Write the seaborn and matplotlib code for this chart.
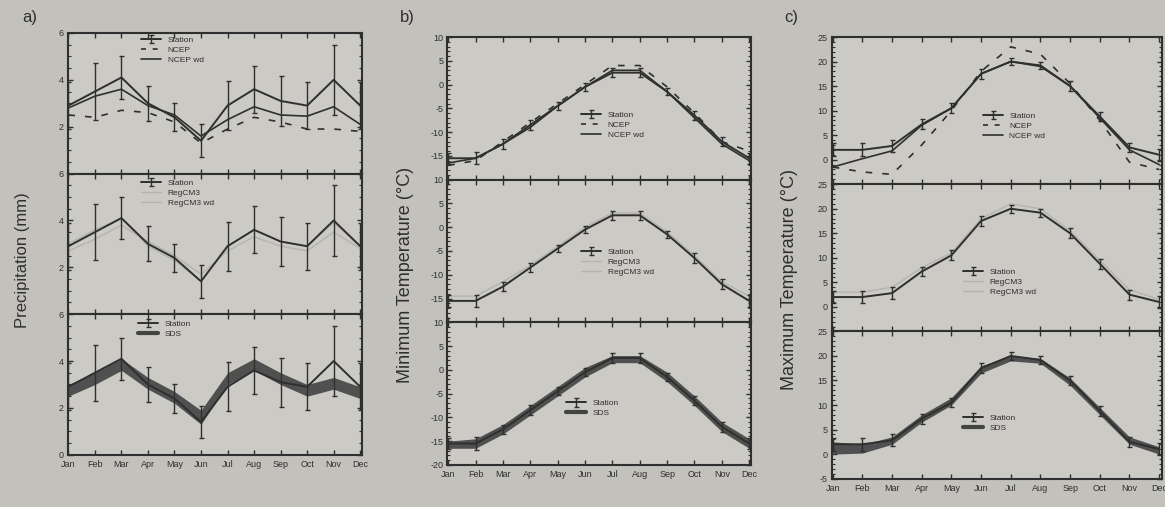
import matplotlib
matplotlib.use('Agg')
import matplotlib.pyplot as plt
from matplotlib.lines import Line2D
from matplotlib.ticker import MultipleLocator
import seaborn as sns
import numpy as np

months = ['Jan', 'Feb', 'Mar', 'Apr', 'May', 'Jun', 'Jul', 'Aug', 'Sep', 'Oct', 'Nov', 'Dec']

# precipitation (mm)
prec_station = [2.9, 3.5, 4.1, 3.0, 2.4, 1.4, 2.9, 3.6, 3.1, 2.9, 4.0, 2.9]
prec_station_sd = [1.0, 1.2, 0.9, 0.75, 0.6, 0.7, 1.05, 1.0, 1.05, 1.0, 1.5, 1.0]
prec_ncep = [2.5, 2.4, 2.7, 2.6, 2.2, 1.3, 1.9, 2.4, 2.2, 1.9, 1.9, 1.8]
prec_ncep_wd = [2.8, 3.3, 3.6, 2.9, 2.5, 1.6, 2.3, 2.85, 2.5, 2.45, 2.85, 2.1]
prec_regcm = [2.7, 3.2, 3.8, 3.1, 2.5, 1.7, 2.7, 3.3, 2.9, 2.7, 3.5, 2.8]
prec_regcm_wd = [3.0, 3.6, 4.1, 2.9, 2.3, 1.4, 2.9, 3.6, 3.1, 2.9, 3.9, 2.9]
prec_sds_lo = [2.5, 3.0, 3.6, 2.8, 2.2, 1.3, 3.0, 3.6, 3.0, 2.5, 2.8, 2.4]
prec_sds_hi = [3.0, 3.5, 4.1, 3.3, 2.7, 1.9, 3.5, 4.1, 3.5, 3.0, 3.3, 2.9]

# minimum temperature (C)
tmin_station = [-15.5, -15.5, -12.5, -8.5, -4.5, -0.5, 2.5, 2.5, -1.5, -6.5, -12.0, -15.5]
tmin_station_sd = [1.2, 1.3, 1.0, 1.0, 0.8, 0.8, 1.0, 1.0, 0.8, 1.0, 1.0, 1.2]
tmin_ncep = [-17.0, -16.0, -12.0, -8.0, -4.0, 0.0, 4.0, 4.0, -0.5, -6.0, -12.0, -14.0]
tmin_ncep_wd = [-16.5, -15.5, -12.5, -9.0, -4.5, -0.5, 3.0, 3.0, -1.5, -7.0, -12.5, -16.0]
tmin_regcm = [-14.5, -14.5, -11.5, -8.0, -4.0, 0.0, 3.0, 3.0, -1.0, -6.0, -11.5, -14.5]
tmin_regcm_wd = [-15.5, -15.5, -12.5, -8.5, -4.5, -0.5, 2.5, 2.5, -1.5, -6.5, -12.0, -15.5]
tmin_sds_lo = [-16.5, -16.5, -13.5, -9.5, -5.5, -1.5, 1.5, 1.5, -2.5, -7.5, -13.0, -16.5]
tmin_sds_hi = [-15.0, -14.5, -11.5, -7.5, -3.5, 0.5, 3.0, 3.0, -0.5, -5.5, -11.0, -14.5]

# maximum temperature (C)
tmax_station = [2.0, 2.0, 2.8, 7.2, 10.5, 17.5, 20.0, 19.2, 15.0, 8.8, 2.5, 1.0]
tmax_station_sd = [1.3, 1.3, 1.2, 1.0, 1.0, 1.0, 0.8, 0.8, 1.0, 1.0, 1.0, 1.2]
tmax_ncep = [-1.5, -2.5, -3.0, 3.0, 10.0, 18.0, 23.0, 21.5, 15.5, 8.0, -0.5, -2.0]
tmax_ncep_wd = [-1.5, 0.2, 1.8, 7.0, 10.5, 17.5, 20.0, 19.0, 15.0, 8.5, 2.0, -1.0]
tmax_regcm = [3.0, 3.0, 4.0, 8.0, 11.0, 18.0, 21.0, 20.0, 15.5, 9.5, 3.5, 1.5]
tmax_regcm_wd = [2.0, 2.0, 2.8, 7.2, 10.5, 17.5, 20.0, 19.2, 15.0, 8.8, 2.5, 1.0]
tmax_sds_lo = [0.0, 0.2, 2.0, 6.5, 10.0, 16.5, 19.0, 18.5, 14.0, 8.0, 2.0, 0.0]
tmax_sds_hi = [2.5, 2.0, 3.5, 8.0, 11.5, 18.0, 20.0, 19.5, 15.5, 9.5, 3.5, 1.5]

sns.set_theme(style='ticks')
plt.rcParams['font.family'] = ['Liberation Sans', 'DejaVu Sans']

paper = '#c3c1bc'
face = '#cccac5'
ink = '#2f2f2f'
faint = '#b5b3ae'
band = '#434343'

x = np.arange(1, 13)

fig = plt.figure(figsize=(11.65, 5.07), dpi=100, facecolor=paper)

columns = [
    dict(left=0.058, right=0.311, top=0.935, bottom=0.103,
         ylim=(0, 6), major=2, minor=0.5, label='Precipitation (mm)',
         lab_xy=(0.019, 0.487), lab_size=12, letter='a)', letter_xy=(0.019, 0.965),
         station=prec_station, sd=prec_station_sd,
         ncep=prec_ncep, ncep_wd=prec_ncep_wd, regcm=prec_regcm, regcm_wd=prec_regcm_wd,
         lo=prec_sds_lo, hi=prec_sds_hi,
         leg=[(0.23, 1.02), (0.23, 1.0), (0.22, 1.0)]),
    dict(left=0.384, right=0.645, top=0.927, bottom=0.083,
         ylim=(-20, 10), major=5, minor=1, label='Minimum Temperature (°C)',
         lab_xy=(0.348, 0.458), lab_size=13, letter='b)', letter_xy=(0.343, 0.965),
         station=tmin_station, sd=tmin_station_sd,
         ncep=tmin_ncep, ncep_wd=tmin_ncep_wd, regcm=tmin_regcm, regcm_wd=tmin_regcm_wd,
         lo=tmin_sds_lo, hi=tmin_sds_hi,
         leg=[(0.42, 0.52), (0.42, 0.56), (0.37, 0.50)]),
    dict(left=0.714, right=0.997, top=0.927, bottom=0.056,
         ylim=(-5, 25), major=5, minor=1, label='Maximum Temperature (°C)',
         lab_xy=(0.678, 0.448), lab_size=13, letter='c)', letter_xy=(0.673, 0.965),
         station=tmax_station, sd=tmax_station_sd,
         ncep=tmax_ncep, ncep_wd=tmax_ncep_wd, regcm=tmax_regcm, regcm_wd=tmax_regcm_wd,
         lo=tmax_sds_lo, hi=tmax_sds_hi,
         leg=[(0.44, 0.53), (0.38, 0.47), (0.38, 0.48)]),
]


def style_axis(ax, c, last):
    ax.set_facecolor(face)
    ax.set_xlim(0.97, 12.08)
    lo, hi = c['ylim']
    ticks = np.arange(lo, hi + 0.01, c['major'])
    labels = ['%g' % t for t in ticks]
    if not last:
        labels[0] = ''  # the panel below carries this value at the shared edge
    ax.set_ylim(lo, hi)
    ax.set_yticks(ticks)
    ax.set_yticklabels(labels)
    ax.yaxis.set_minor_locator(MultipleLocator(c['minor']))
    ax.set_xticks(x)
    ax.tick_params(which='both', direction='in', top=True, right=True,
                   colors=ink, labelsize=6.5)
    ax.tick_params(axis='y', pad=3)
    ax.tick_params(axis='x', pad=4)
    ax.tick_params(which='major', length=3.5, width=1.0)
    ax.tick_params(which='minor', length=2, width=0.8)
    for s in ax.spines.values():
        s.set_color(ink)
        s.set_linewidth(1.5)
    if last:
        ax.set_xticklabels(months)
    else:
        ax.set_xticklabels([])
    ax.set_xlabel('')
    ax.set_ylabel('')


def draw_station(ax, c):
    return ax.errorbar(x, c['station'], yerr=c['sd'], color=ink, lw=1.4,
                       elinewidth=1.0, capsize=1.8, capthick=1.0, zorder=5)


leg_kw = dict(loc='upper left', frameon=False, fontsize=6, handlelength=2.4,
              labelspacing=0.25, borderpad=0.2, labelcolor=ink)

for c in columns:
    gs = fig.add_gridspec(3, 1, left=c['left'], right=c['right'],
                          top=c['top'], bottom=c['bottom'], hspace=0)
    axes = [fig.add_subplot(gs[i]) for i in range(3)]

    # row 1: station vs NCEP
    ax = axes[0]
    st = draw_station(ax, c)
    sns.lineplot(x=x, y=c['ncep'], ax=ax, color=ink, lw=1.2, linestyle=(0, (4, 6)))
    sns.lineplot(x=x, y=c['ncep_wd'], ax=ax, color=ink, lw=1.2)
    handles = [st, Line2D([], [], color=ink, lw=1.2, linestyle=(0, (3, 4))),
               Line2D([], [], color=ink, lw=1.2)]
    ax.legend(handles, ['Station', 'NCEP', 'NCEP wd'],
              bbox_to_anchor=c['leg'][0], **leg_kw)

    # row 2: station vs RegCM3
    ax = axes[1]
    sns.lineplot(x=x, y=c['regcm'], ax=ax, color=faint, lw=1.0)
    sns.lineplot(x=x, y=c['regcm_wd'], ax=ax, color=faint, lw=1.0)
    st = draw_station(ax, c)
    handles = [st, Line2D([], [], color=faint, lw=1.0), Line2D([], [], color=faint, lw=1.0)]
    ax.legend(handles, ['Station', 'RegCM3', 'RegCM3 wd'],
              bbox_to_anchor=c['leg'][1], **leg_kw)

    # row 3: station vs SDS ensemble
    ax = axes[2]
    ax.fill_between(x, c['lo'], c['hi'], color=band, alpha=0.9, lw=0, zorder=3)
    st = draw_station(ax, c)
    handles = [st, Line2D([], [], color=band, lw=3)]
    ax.legend(handles, ['Station', 'SDS'], bbox_to_anchor=c['leg'][2], **leg_kw)

    for i, ax in enumerate(axes):
        style_axis(ax, c, i == 2)

    fig.text(c['lab_xy'][0], c['lab_xy'][1], c['label'], rotation=90,
             va='center', ha='center', fontsize=c['lab_size'], color=ink)
    fig.text(c['letter_xy'][0], c['letter_xy'][1], c['letter'],
             va='center', ha='left', fontsize=12, color=ink)

fig.savefig('out.png', dpi=100, facecolor=paper)
